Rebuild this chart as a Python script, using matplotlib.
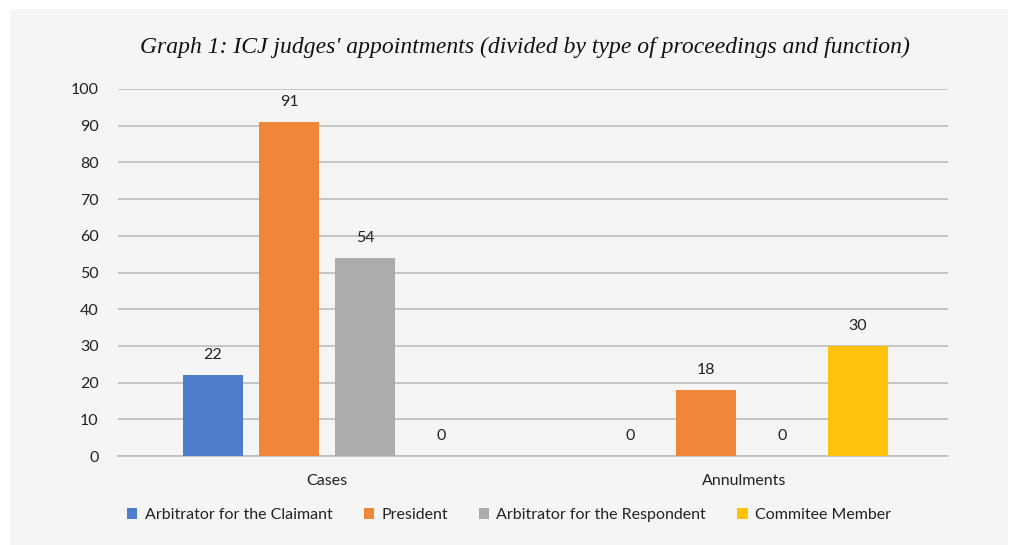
import numpy as np
import matplotlib.pyplot as plt
from matplotlib.patches import Rectangle

categories = ["Cases", "Annulments"]
series = ["Arbitrator for the Claimant", "President", "Arbitrator for the Respondent", "Commitee Member"]
claimant = [22, 0]
president = [91, 18]
respondent = [54, 0]
committee = [0, 30]
values = [claimant, president, respondent, committee]
colors = ["#4e7dcb", "#ef873b", "#acacac", "#ffc20a"]

W, H = 1009, 545
fig = plt.figure(figsize=(W / 100, H / 100), dpi=100, facecolor="white")
fig.patches.append(Rectangle((10 / W, 0), (998 / W), 1 - 9 / H, transform=fig.transFigure,
                             facecolor="#f5f5f5", edgecolor="none", zorder=-5))

ax = fig.add_axes([118 / W, 1 - 456 / H, (948 - 118) / W, (456 - 89) / H])
ax.set_facecolor("none")

x = np.arange(len(categories))
width = 60 / 417
step = 76 / 417
for i, (name, vals, c) in enumerate(zip(series, values, colors)):
    pos = x + (i - 1.5) * step
    bars = ax.bar(pos, vals, width, color=c, label=name, zorder=3)
    for xp, v in zip(pos, vals):
        ax.text(xp, v + 5.5, str(v), ha="center", va="center", fontsize=11.5,
                family="Lato", color="#222222")

ax.set_xlim(-0.501, 1.489)
ax.set_ylim(0, 100)
ax.set_yticks(range(0, 101, 10))
ax.set_xticks(x)
ax.set_xticklabels(categories)
ax.yaxis.grid(True, color="#bdbdbd", linewidth=1.2, zorder=0)
ax.set_axisbelow(True)
for s in ["top", "right", "left"]:
    ax.spines[s].set_visible(False)
ax.spines["bottom"].set_color("#bdbdbd")
ax.spines["bottom"].set_linewidth(1.2)
ax.tick_params(length=0, labelsize=11.5, labelcolor="#222222")
ax.tick_params(axis="y", pad=14)
ax.tick_params(axis="x", pad=13)
for lab in ax.get_xticklabels() + ax.get_yticklabels():
    lab.set_family("Lato")

fig.text(525 / W, 1 - 47 / H, "Graph 1: ICJ judges' appointments (divided by type of proceedings and function)",
         ha="center", va="center", fontsize=17, family="Liberation Serif", style="italic", color="#111111")

leg = fig.legend(loc="center", bbox_to_anchor=(509 / W, 1 - 515 / H), ncol=4, frameon=False,
                 prop={"family": "Lato", "size": 11.5}, handlelength=0.65, handleheight=0.65,
                 handletextpad=0.45, columnspacing=1.95)
for t in leg.get_texts():
    t.set_color("#222222")

fig.savefig("out.png", dpi=100, facecolor="white")
